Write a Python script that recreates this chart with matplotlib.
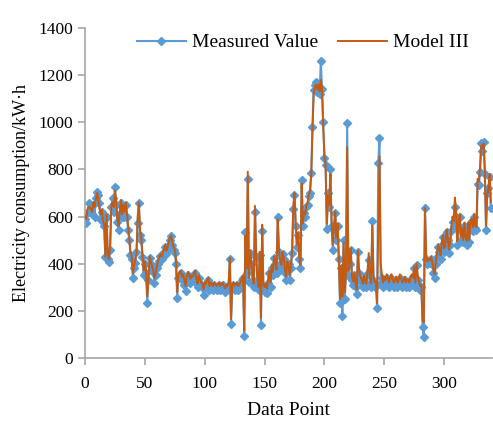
import numpy as np
import matplotlib
matplotlib.use("Agg")
import matplotlib.pyplot as plt

plt.rcParams['font.family'] = ['Liberation Serif', 'DejaVu Serif']

# measured load, one value per data point
measured = [
    590, 573, 615, 657, 620, 640, 610, 650, 600, 680,
    705, 690, 657, 585, 620, 600, 560, 430, 600, 420,
    408, 458, 640, 680, 620, 725, 650, 577, 543, 610,
    657, 600, 640, 600, 650, 600, 543, 500, 437, 420,
    340, 380, 403, 450, 573, 657, 520, 500, 430, 352,
    400, 360, 233, 330, 424, 400, 380, 365, 318, 350,
    380, 400, 410, 433, 420, 440, 450, 471, 440, 460,
    480, 500, 518, 480, 460, 445, 400, 255, 340, 350,
    360, 330, 340, 310, 285, 330, 350, 340, 320, 340,
    330, 350, 360, 320, 300, 340, 320, 310, 300, 267,
    310, 300, 320, 330, 290, 310, 300, 290, 310, 300,
    290, 300, 310, 290, 300, 310, 290, 280, 300, 290,
    310, 420, 145, 300, 310, 290, 300, 310, 290, 300,
    310, 330, 340, 93, 535, 360, 760, 322, 445, 400,
    330, 300, 620, 430, 320, 288, 437, 140, 540, 300,
    280, 300, 276, 320, 360, 300, 380, 350, 424, 400,
    360, 600, 450, 400, 380, 440, 420, 360, 330, 400,
    400, 330, 380, 445, 630, 690, 560, 470, 520, 420,
    380, 755, 560, 615, 600, 640, 650, 685, 700, 785,
    980, 1137, 1160, 1170, 1130, 1150, 1120, 1260, 1140, 1000,
    850, 820, 547, 700, 640, 800, 560, 458, 550, 615,
    500, 560, 420, 233, 380, 180, 500, 250, 350, 997,
    350, 400, 458, 330, 310, 350, 300, 272, 450, 360,
    330, 320, 300, 340, 310, 300, 360, 415, 320, 300,
    580, 330, 300, 310, 212, 827, 933, 318, 340, 300,
    330, 310, 340, 320, 300, 330, 340, 310, 300, 320,
    330, 300, 310, 340, 320, 300, 310, 330, 300, 320,
    310, 300, 330, 340, 320, 380, 300, 395, 330, 310,
    290, 300, 132, 90, 636, 420, 400, 410, 405, 420,
    400, 360, 340, 400, 430, 470, 450, 420, 480, 513,
    450, 470, 535, 500, 445, 480, 540, 577, 560, 640,
    600, 480, 560, 600, 500, 540, 490, 560, 500, 480,
    560, 490, 570, 580, 540, 600, 550, 543, 740, 733,
    790, 912, 880, 916, 780, 543, 700, 720, 768, 636,
]

# Model III prediction
model3 = [
    600, 590, 630, 640, 640, 630, 620, 660, 640, 670,
    700, 680, 640, 610, 630, 580, 570, 430, 610, 440,
    420, 480, 650, 660, 640, 710, 670, 590, 560, 620,
    670, 610, 650, 620, 660, 620, 560, 510, 450, 430,
    360, 390, 420, 440, 600, 660, 540, 510, 440, 370,
    410, 370, 260, 340, 430, 410, 390, 370, 340, 360,
    390, 410, 430, 440, 430, 450, 460, 480, 455, 470,
    495, 510, 520, 490, 470, 460, 420, 280, 350, 365,
    370, 345, 355, 330, 305, 345, 365, 355, 335, 350,
    345, 360, 370, 335, 315, 350, 335, 320, 315, 290,
    320, 315, 330, 340, 305, 320, 315, 305, 320, 315,
    305, 315, 320, 305, 315, 320, 305, 295, 310, 305,
    320, 425, 165, 310, 320, 305, 315, 320, 305, 315,
    320, 340, 350, 115, 520, 380, 790, 340, 455, 410,
    345, 315, 645, 440, 335, 300, 450, 170, 565, 320,
    300, 315, 295, 335, 370, 320, 395, 365, 430, 410,
    375, 590, 460, 415, 395, 450, 430, 375, 345, 410,
    395, 350, 395, 455, 640, 700, 570, 480, 530, 430,
    395, 740, 570, 620, 610, 650, 660, 690, 710, 780,
    960, 1120, 1150, 1160, 1140, 1160, 1130, 1180, 1140, 980,
    860, 810, 570, 690, 650, 780, 570, 480, 560, 620,
    510, 570, 430, 250, 390, 260, 490, 280, 360, 895,
    370, 410, 465, 345, 325, 360, 315, 290, 455, 370,
    345, 335, 315, 350, 325, 315, 370, 445, 340, 315,
    560, 345, 320, 325, 233, 560, 855, 400, 355, 320,
    345, 330, 355, 340, 320, 345, 355, 330, 320, 335,
    345, 320, 330, 355, 340, 320, 330, 345, 320, 335,
    330, 320, 345, 355, 340, 390, 320, 400, 345, 325,
    305, 310, 160, 150, 636, 430, 410, 420, 415, 430,
    410, 375, 355, 405, 440, 480, 460, 435, 490, 520,
    465, 480, 545, 510, 460, 490, 550, 600, 580, 680,
    620, 495, 570, 610, 515, 550, 500, 575, 510, 495,
    575, 500, 585, 590, 555, 610, 560, 555, 760, 750,
    810, 900, 890, 910, 800, 560, 690, 720, 780, 660,
]

points = np.arange(len(measured))

fig = plt.figure(figsize=(4.93, 4.23), dpi=100)
ax = fig.add_axes([0.1724, 0.1537, 0.8256, 0.7803])

ax.plot(points, measured, color='#5B9BD5', lw=1.5, marker='D', ms=4.5,
        label='Measured Value', zorder=2)
ax.plot(points, model3, color='#C55A11', lw=1.4, label='Model III', zorder=3)

ax.set_xlim(0, 340)
ax.set_ylim(0, 1400)
ax.set_xticks(range(0, 301, 50))
ax.set_yticks(range(0, 1401, 200))

for s in ['top', 'right']:
    ax.spines[s].set_visible(False)
for s in ['left', 'bottom']:
    ax.spines[s].set_color('#a6a6a6')
    ax.spines[s].set_linewidth(1.2)
ax.tick_params(direction='out', length=5, width=1.2, color='#a6a6a6',
               labelsize=12.5, labelcolor='black')
ax.tick_params(axis='x', pad=8)

ax.set_xlabel('Data Point', fontsize=14, labelpad=7)
ax.set_ylabel('Electricity consumption/kW·h', fontsize=13, labelpad=6)

ax.legend(loc='upper center', bbox_to_anchor=(0.536, 1.035), ncol=2, frameon=False,
          fontsize=14, handlelength=2.5, columnspacing=1.0, handletextpad=0.35)

fig.savefig('out.png', dpi=100)
